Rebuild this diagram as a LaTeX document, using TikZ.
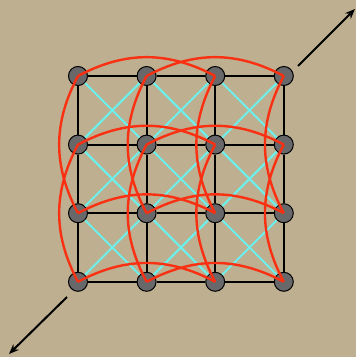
\documentclass[tikz,border=0pt]{standalone}
\usepackage{tikz}
\usetikzlibrary{arrows.meta}

\definecolor{khaki}{RGB}{189,175,143}
\definecolor{wire}{RGB}{108,240,238}
\definecolor{wrapred}{RGB}{250,48,18}
\definecolor{knot}{RGB}{104,104,106}

\begin{document}
\begin{tikzpicture}[x=1pt,y=1pt,
  vertex/.style={circle,draw=black,fill=knot,line width=1pt,minimum size=19pt,inner sep=0pt},
  gridline/.style={line width=2pt},
  diag/.style={wire,line width=2pt},
  wrap/.style={wrapred,line width=2.4pt},
  axis/.style={line width=2pt,-{Stealth[length=10pt,width=8pt]}}]
\fill[khaki] (0,0) rectangle (356,357);

% nodes, v<column><row>, row 1 on top
\foreach \i in {1,...,4}
  \foreach \j in {1,...,4}
    \node[vertex] (v\i\j) at ({78+68.6*(\i-1)},{281-68.6*(\j-1)}) {};

% cell diagonals
\foreach \i/\k in {1/2,2/3,3/4}
  \foreach \j/\l in {1/2,2/3,3/4} {
    \draw[diag] (v\i\j) -- (v\k\l);
    \draw[diag] (v\k\j) -- (v\i\l);
  }

% square grid
\foreach \i/\k in {1/2,2/3,3/4}
  \foreach \j in {1,...,4} {
    \draw[gridline] (v\i\j) -- (v\k\j);
    \draw[gridline] (v\j\i) -- (v\j\k);
  }

% jumps of two
\foreach \j in {1,...,4} {
  \draw[wrap] (v1\j.center) to[bend left=28] (v3\j.center);
  \draw[wrap] (v2\j.center) to[bend left=28] (v4\j.center);
  \draw[wrap] (v\j4.center) to[bend left=28] (v\j2.center);
  \draw[wrap] (v\j3.center) to[bend left=28] (v\j1.center);
}

\coordinate (ne0) at (298,291);
\coordinate (ne1) at (355,348);
\coordinate (sw0) at (67,60);
\coordinate (sw1) at (9,3);
\draw[axis] (ne0) -- (ne1);
\draw[axis] (sw0) -- (sw1);

\end{tikzpicture}
\end{document}
